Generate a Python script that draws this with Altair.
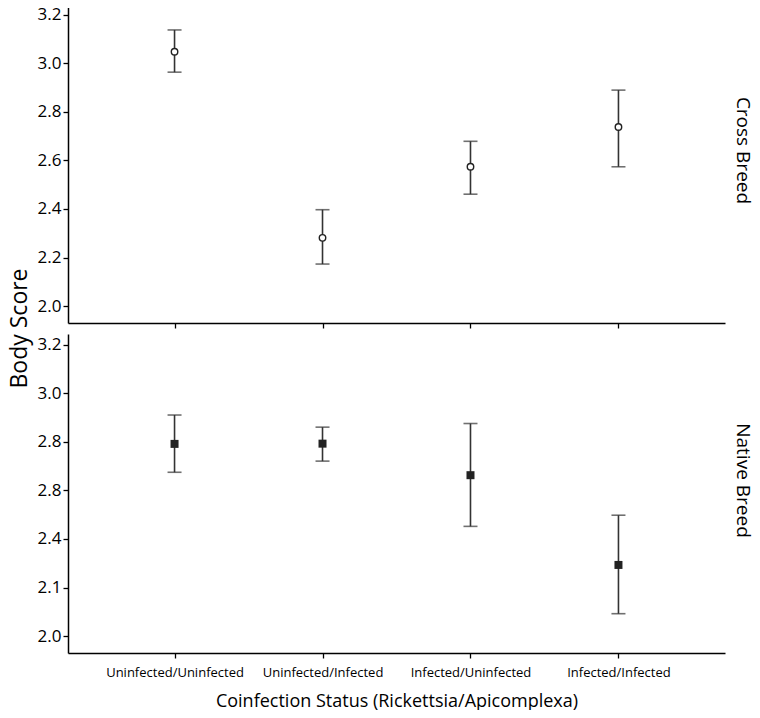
import altair as alt
import pandas as pd

categories = ["Uninfected/Uninfected", "Uninfected/Infected", "Infected/Uninfected", "Infected/Infected"]

cross_mean = [3.048, 2.281, 2.574, 2.738]
cross_lower = [2.964, 2.173, 2.461, 2.574]
cross_upper = [3.138, 2.397, 2.679, 2.890]

native_mean = [2.792, 2.793, 2.663, 2.293]
native_lower = [2.675, 2.721, 2.452, 2.092]
native_upper = [2.911, 2.861, 2.876, 2.498]

tick_values = [2.0, 2.2, 2.4, 2.6, 2.8, 3.0, 3.2]
native_tick_labels = ["2.0", "2.1", "2.4", "2.8", "2.8", "3.0", "3.2"]

panel_labels = ["Cross Breed", "Native Breed"]

FONT = "Open Sans"
W = 657
H = 319

cross_df = pd.DataFrame({"status": categories, "mean": cross_mean, "lower": cross_lower, "upper": cross_upper})
native_df = pd.DataFrame({"status": categories, "mean": native_mean, "lower": native_lower, "upper": native_upper})

xscale = alt.Scale(type="point", padding=0.72, domain=categories)
yscale = alt.Scale(domain=[1.93, 3.245], nice=False, zero=False)

label_expr = "[" + ",".join("'%s'" % s for s in native_tick_labels) + "][round((datum.value - 2.0) / 0.2)]"


def panel(df, top, label):
    base = alt.Chart(df)
    if top:
        xaxis = alt.Axis(labels=False, title=None, ticks=True)
        yaxis = alt.Axis(values=tick_values, format=".1f", title="Body Score",
                         titleX=-37, titleY=H + 5, titleFontSize=23,
                         titleFontWeight="normal", titleAngle=270)
    else:
        xaxis = alt.Axis(labelAngle=0, title="Coinfection Status (Rickettsia/Apicomplexa)",
                         labelPadding=8, titlePadding=13, titleFontSize=18,
                         titleFontWeight="normal", labelFontSize=13)
        yaxis = alt.Axis(values=tick_values, title=None, labelExpr=label_expr)
    x = alt.X("status:N", scale=xscale, sort=categories, axis=xaxis)
    rule = base.mark_rule(color="#333333", strokeWidth=1.6).encode(
        x=x, y=alt.Y("lower:Q", scale=yscale, axis=yaxis), y2="upper:Q")
    cap_lo = base.mark_tick(color="#333333", size=14, thickness=1.6, orient="horizontal").encode(
        x=alt.X("status:N", scale=xscale, sort=categories), y=alt.Y("lower:Q", scale=yscale))
    cap_hi = base.mark_tick(color="#333333", size=14, thickness=1.6, orient="horizontal").encode(
        x=alt.X("status:N", scale=xscale, sort=categories), y=alt.Y("upper:Q", scale=yscale))
    if top:
        pts = base.mark_point(shape="circle", filled=False, fill="white", stroke="#222222",
                              strokeWidth=1.4, size=42, opacity=1).encode(
            x=alt.X("status:N", scale=xscale, sort=categories), y=alt.Y("mean:Q", scale=yscale))
    else:
        pts = base.mark_point(shape="square", filled=True, color="#222222",
                              size=64, opacity=1).encode(
            x=alt.X("status:N", scale=xscale, sort=categories), y=alt.Y("mean:Q", scale=yscale))
    txt = alt.Chart(pd.DataFrame({"label": [label]})).mark_text(
        angle=90, fontSize=19, font=FONT, color="black", align="center", baseline="middle"
    ).encode(x=alt.value(W + 18), y=alt.value(H / 2 - 13), text="label:N")
    return alt.layer(rule, cap_lo, cap_hi, pts, txt).properties(width=W, height=H)


chart = alt.vconcat(
    panel(cross_df, True, panel_labels[0]),
    panel(native_df, False, panel_labels[1]),
    spacing=11,
    bounds="flush",
).properties(padding={"left": 0, "top": -4, "right": 0, "bottom": 0}).configure_view(
    stroke=None
).configure_axis(
    grid=False, domainColor="black", domainWidth=1.5, tickColor="black", tickWidth=1.3,
    tickSize=5, labelFont=FONT, titleFont=FONT, labelColor="black", titleColor="black",
    labelFontSize=17
).configure_axisY(labelPadding=2)

chart.save("out.html", embed_options={"renderer": "svg", "actions": False})
